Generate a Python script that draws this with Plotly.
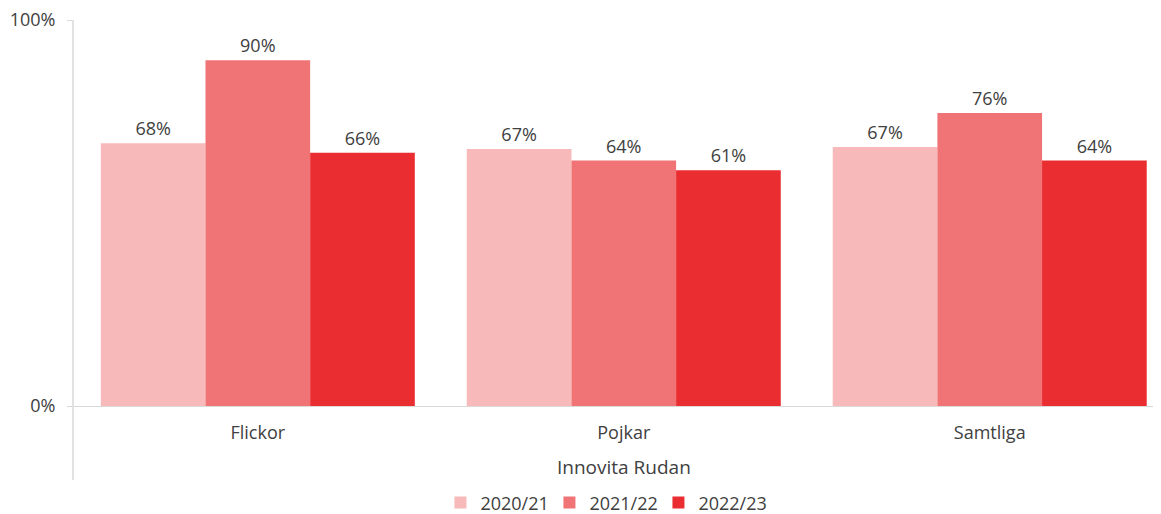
import plotly.graph_objects as go

categories = ["Flickor", "Pojkar", "Samtliga"]
group_label = "Innovita Rudan"
series_names = ["2020/21", "2021/22", "2022/23"]
values_2020_21 = [68.1, 66.6, 67.1]
values_2021_22 = [89.6, 63.6, 75.9]
values_2022_23 = [65.6, 61.1, 63.6]
colors = ["#F8B9BA", "#F07475", "#E92D31"]

FONT = "Open Sans"
TXT = "#404040"
AXC = "#D9D9D9"

fig = go.Figure()
for name, vals, col in zip(series_names, [values_2020_21, values_2021_22, values_2022_23], colors):
    fig.add_trace(go.Bar(
        name=name, x=categories, y=vals, marker=dict(color=col, line=dict(width=0)),
        texttemplate="%{y:.0f}%", textposition="outside", cliponaxis=False,
        textfont=dict(family=FONT, size=18, color=TXT),
    ))

# page body has an 8px default margin, so the figure is shifted by 8px
fig.update_layout(
    width=1153, height=506,
    margin=dict(l=65, r=0, t=12, b=108, autoexpand=False),
    barmode="group", bargap=0.142, bargroupgap=0,
    plot_bgcolor="white", paper_bgcolor="white",
    font=dict(family=FONT, size=17, color=TXT),
    showlegend=True,
    legend=dict(orientation="h", x=0.488, xanchor="center", y=-0.203, yanchor="top",
                font=dict(family=FONT, size=18, color=TXT), itemwidth=30,
                entrywidth=64, entrywidthmode="pixels",
                traceorder="normal"),
)
fig.update_xaxes(
    range=[-0.505, 2.468], showline=True, linecolor=AXC, linewidth=1,
    ticks="", showgrid=False, ticklabelstandoff=10, automargin=False,
    tickfont=dict(family=FONT, size=18, color=TXT),
)
fig.update_yaxes(
    range=[0, 100.02], tickvals=[0, 100], ticktext=["0%", "100%"],
    showgrid=False, zeroline=False, showline=False, automargin=False,
    ticks="outside", ticklen=5, tickcolor=AXC, ticklabelstandoff=8,
    ticklabeloverflow="allow",
    tickfont=dict(family=FONT, size=18, color=TXT),
)
# vertical axis line extending below the plot area
fig.add_shape(type="line", xref="paper", yref="paper", x0=0, x1=0, y0=-0.192, y1=1,
              line=dict(color=AXC, width=1.5))
fig.add_annotation(text=group_label, xref="x", yref="paper", x=1, y=-0.158,
                   yanchor="middle", showarrow=False,
                   font=dict(family=FONT, size=19, color=TXT))

fig.write_html("out.html")
